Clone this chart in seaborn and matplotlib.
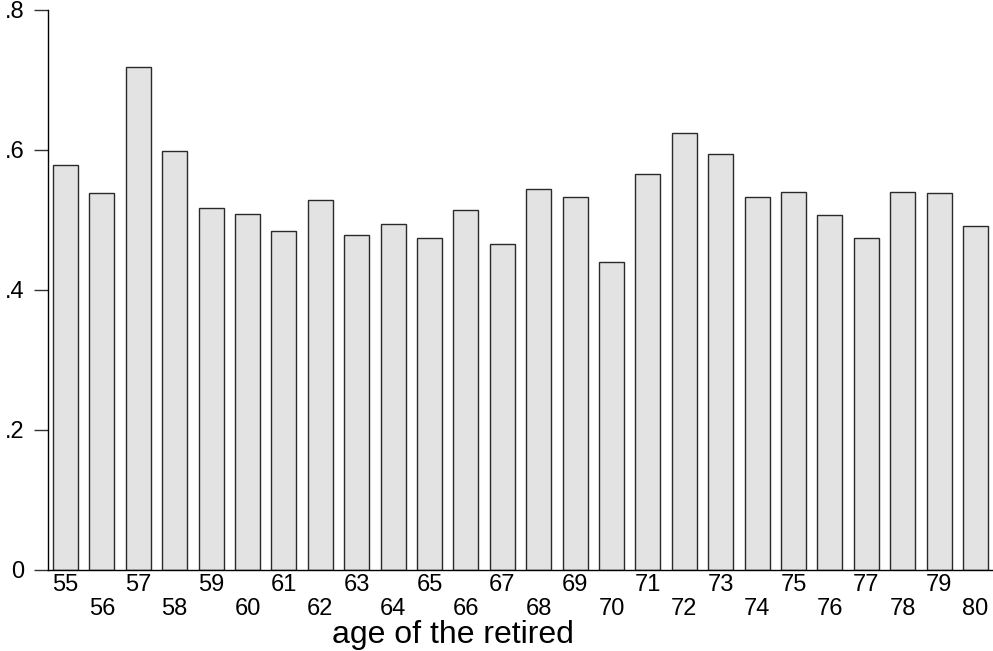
import matplotlib
matplotlib.use("Agg")
import matplotlib.pyplot as plt
import seaborn as sns
import pandas as pd

ages = [str(a) for a in range(55, 81)]
shares = [0.579, 0.539, 0.719, 0.599, 0.517, 0.508, 0.485, 0.529, 0.478, 0.495,
          0.474, 0.514, 0.466, 0.544, 0.533, 0.440, 0.566, 0.625, 0.594, 0.533,
          0.540, 0.507, 0.474, 0.540, 0.538, 0.491]
ytick_vals = [0, 0.2, 0.4, 0.6, 0.8]
ytick_labels = ["0", ".2", ".4", ".6", ".8"]
xlabel = "age of the retired"

sns.set_style("white")
plt.rcParams["font.family"] = ["Liberation Sans", "DejaVu Sans"]
plt.rcParams["text.color"] = "black"
plt.rcParams["xtick.color"] = "black"
plt.rcParams["ytick.color"] = "black"

df = pd.DataFrame({"age": ages, "share": shares})

W, H = 993, 651
fig = plt.figure(figsize=(W / 100, H / 100), dpi=100)
ax = fig.add_axes([48 / W, (H - 570) / H, (993 - 48) / W, (570 - 10) / H])

sns.barplot(data=df, x="age", y="share", order=ages, ax=ax, width=0.69,
            color="#e3e3e3", edgecolor="#2a2a2a", linewidth=1.0, saturation=1)

ax.set_xlim(-0.48, len(ages) - 0.52)
ax.set_ylim(0, 0.8)
ax.set_yticks(ytick_vals)
ax.set_yticklabels(ytick_labels)
ax.set_xticks(range(len(ages)))
ax.set_xticklabels([a if i % 2 == 0 else "\n" + a for i, a in enumerate(ages)],
                   linespacing=1.1)
ax.tick_params(axis="x", length=0, pad=3, labelsize=17, labelcolor="black")
ax.tick_params(axis="y", length=10, width=1, pad=7, labelsize=17, direction="out",
               left=True, color="#333333", labelcolor="black")
ax.set_xlabel("")
ax.set_ylabel("")

for s in ["top", "right"]:
    ax.spines[s].set_visible(False)
for s in ["left", "bottom"]:
    ax.spines[s].set_visible(True)
    ax.spines[s].set_color("black")
    ax.spines[s].set_linewidth(1.0)

fig.text(452.5 / W, (H - 643) / H, xlabel, ha="center", va="baseline",
         fontsize=23, color="black")

fig.savefig("out.png", dpi=100)
